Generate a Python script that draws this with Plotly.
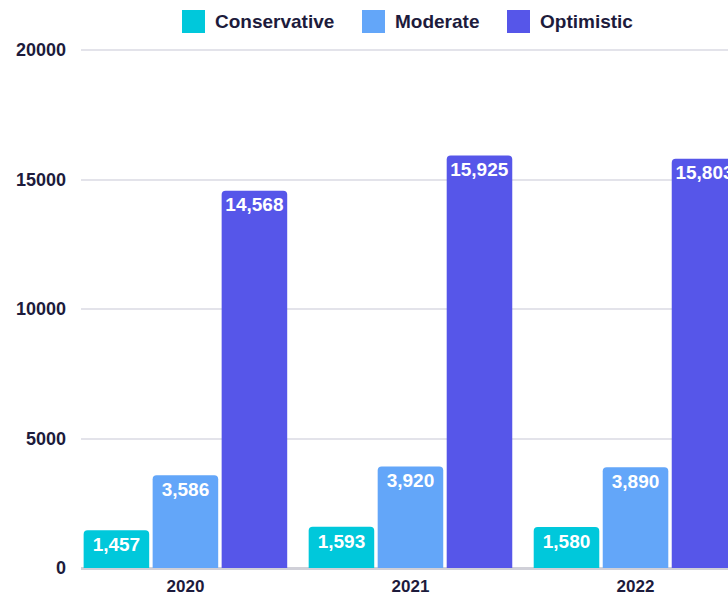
import plotly.graph_objects as go

# Revenue scenarios by year
years = ["2020", "2021", "2022"]
conservative = [1457, 1593, 1580]
moderate = [3586, 3920, 3890]
optimistic = [14568, 15925, 15803]

series_names = ["Conservative", "Moderate", "Optimistic"]
series_colors = ["#00C8DB", "#63A6F9", "#5656E9"]
y_ticks = [0, 5000, 10000, 15000, 20000]

FONT = "Liberation Sans, Arial, sans-serif"
INK = "#1D1B3C"

W, H = 728, 596
M_L, M_R, M_T, M_B = 81, 0, 48, 28
Y_MAX = 20080  # a little headroom so the top gridline stays visible

fig = go.Figure()
for name, vals, color in zip(series_names, [conservative, moderate, optimistic], series_colors):
    fig.add_trace(go.Bar(
        x=years,
        y=vals,
        name=name,
        marker=dict(color=color, line=dict(width=0)),
        texttemplate="%{y:,.0f}",
        textposition="inside",
        insidetextanchor="end",
        textfont=dict(family=FONT, size=19, color="white", weight="bold"),
        cliponaxis=True,
        showlegend=False,
        hoverinfo="x+y+name",
    ))

# Legend row drawn above the plot: square swatch + bold label per series
plot_w = W - M_L - M_R
plot_h = H - M_T - M_B
swatch_x = [182, 362, 507]
swatch_size = 23
swatch_top = 10


def px_to_paper_x(px):
    return (px - M_L) / plot_w


def px_to_paper_y(py):
    return 1 + (M_T - py) / plot_h


for sx, name, color in zip(swatch_x, series_names, series_colors):
    fig.add_shape(
        type="rect", xref="paper", yref="paper",
        x0=px_to_paper_x(sx), x1=px_to_paper_x(sx + swatch_size),
        y0=px_to_paper_y(swatch_top + swatch_size), y1=px_to_paper_y(swatch_top),
        fillcolor=color, line=dict(width=0),
    )
    fig.add_annotation(
        xref="paper", yref="paper",
        x=px_to_paper_x(sx + swatch_size + 8), y=px_to_paper_y(swatch_top + swatch_size / 2),
        xanchor="left", yanchor="middle",
        text=name, showarrow=False,
        font=dict(family=FONT, size=19, color=INK, weight="bold"),
    )

fig.update_layout(
    width=W, height=H,
    margin=dict(l=M_L, r=M_R, t=M_T, b=M_B, pad=0),
    paper_bgcolor="white",
    plot_bgcolor="white",
    barmode="group",
    bargap=0.08,
    bargroupgap=0.05,
    barcornerradius=4,
    font=dict(family=FONT, color=INK),
    xaxis=dict(
        type="category",
        range=[-0.464, 2.411],
        showgrid=False,
        showline=False,
        ticks="",
        tickfont=dict(family=FONT, size=17, color=INK, weight="bold"),
        ticklabelstandoff=6,
    ),
    yaxis=dict(
        range=[0, Y_MAX],
        tickvals=y_ticks,
        ticktext=[str(v) for v in y_ticks],
        showgrid=True,
        gridcolor="#E3E3EA",
        gridwidth=1.5,
        zeroline=True,
        zerolinecolor="#D0D0D8",
        zerolinewidth=3,
        showline=False,
        ticks="",
        tickfont=dict(family=FONT, size=18, color=INK, weight="bold"),
        ticklabelstandoff=14,
    ),
)

fig.write_html("out.html")
